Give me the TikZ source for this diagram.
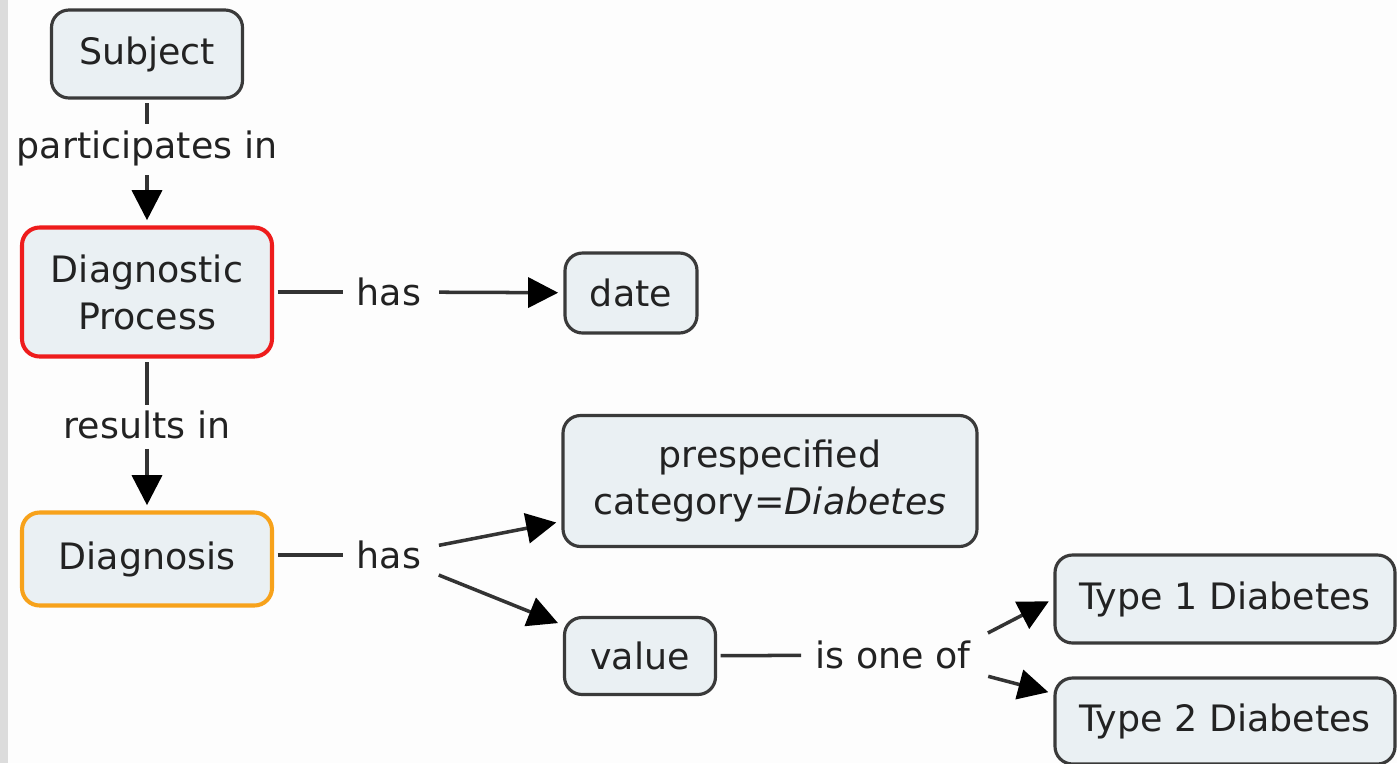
\documentclass[tikz,border=0pt]{standalone}
\usepackage{fontspec}
\setmainfont{DejaVu Sans}
\usetikzlibrary{arrows.meta}
\definecolor{Canvas}{HTML}{FDFDFD}
\definecolor{SideGrey}{HTML}{DCDCDC}
\definecolor{BoxFill}{HTML}{EAF0F3}
\definecolor{BoxLine}{HTML}{3A3A3A}
\definecolor{ProcRed}{HTML}{EE1C1C}
\definecolor{DiagOrange}{HTML}{F7A21B}
\definecolor{LinkGrey}{HTML}{333333}
\definecolor{TextDark}{HTML}{222222}
\begin{document}
\begin{tikzpicture}[font=\fontsize{20.7}{26.7}\selectfont,every node/.style={text=TextDark},concept/.style={draw=BoxLine,fill=BoxFill,rounded corners=10pt,line width=1.8pt,align=center,inner sep=0pt},linkword/.style={inner xsep=0.28cm,inner ysep=0.12cm},link/.style={draw=LinkGrey,line width=2pt,shorten <=2pt},arrow/.style={link,-{Triangle[length=0.6cm,width=0.6cm,color=black]},shorten >=3pt}]
\useasboundingbox (0,0) rectangle (27.94,-15.26);
\fill[Canvas] (0,0) rectangle (27.94,-15.26);
\fill[SideGrey] (0,0) rectangle (0.16,-15.26);
% concepts
\node[concept,minimum width=3.82cm,minimum height=1.76cm] (subj) at (2.94,-1.08) {Subject};
\node[concept,draw=ProcRed,line width=2.3pt,minimum width=5cm,minimum height=2.58cm] (dproc) at (2.94,-5.84) {Diagnostic\\Process};
\node[concept,draw=DiagOrange,line width=2.3pt,minimum width=5cm,minimum height=1.86cm] (diag) at (2.94,-11.18) {Diagnosis};
\node[concept,minimum width=2.64cm,minimum height=1.6cm] (date) at (12.62,-5.86) {date};
\node[concept,minimum width=8.28cm,minimum height=2.62cm] (pre) at (15.4,-9.62) {prespecified\\category=\textit{Diabetes}};
\node[concept,minimum width=3.02cm,minimum height=1.54cm] (val) at (12.8,-13.12) {value};
\node[concept,minimum width=6.8cm,minimum height=1.76cm] (type1) at (24.5,-11.98) {Type 1 Diabetes};
\node[concept,minimum width=6.8cm,minimum height=1.72cm] (type2) at (24.5,-14.42) {Type 2 Diabetes};
% linking words
\node[linkword] (pin) at (2.94,-2.96) {participates in};
\node[linkword] (resin) at (2.94,-8.5) {results in};
\node[linkword] (has1) at (7.78,-5.84) {has};
\node[linkword] (has2) at (7.78,-11.1) {has};
\node[linkword] (isone) at (17.86,-13.1) {is one of};
% connectors
\draw[link] (subj) -- (pin);
\draw[arrow] (pin) -- (dproc);
\draw[link] (dproc) -- (resin);
\draw[arrow] (resin) -- (diag);
\draw[link] (dproc) -- (has1);
\draw[arrow] (has1) -- (date);
\draw[link] (diag.east |- has2) -- (has2);
\draw[arrow] (has2) -- (pre);
\draw[arrow] (has2) -- (val);
\draw[link] (val) -- (isone);
\draw[arrow] (isone.north east) -- (type1.west);
\draw[arrow] (isone.south east) -- ([yshift=0.55cm]type2.west);
\end{tikzpicture}
\end{document}
